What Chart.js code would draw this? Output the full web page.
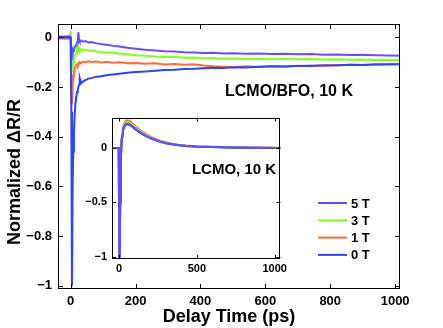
<!DOCTYPE html>
<html>
<head>
<meta charset="utf-8">
<script src="https://cdn.jsdelivr.net/npm/chart.js@4.4.1/dist/chart.umd.min.js"></script>
<style>
  body { margin: 0; background: #fff; }
  #wrap { position: relative; width: 443px; height: 328px; }
  #main { position: absolute; left: 0; top: 0; }
  #inset { position: absolute; left: 70px; top: 106px; }
</style>
</head>
<body>
<div id="wrap">
  <canvas id="main" width="443" height="328"></canvas>
  <canvas id="inset" width="220" height="176"></canvas>
</div>
<script>
// main panel (LCMO/BFO, 10 K) - delay in ps, normalized dR/R
const delay = [-39, -20, -5, 0, 2, 4, 6, 8, 10, 12, 14, 17, 20, 22, 24, 26, 28, 32, 38, 45, 55, 65, 80, 95, 110, 130, 150, 175, 200, 230, 260, 290, 320, 350, 380, 410, 440, 470, 500, 540, 580, 620, 660, 700, 740, 780, 820, 860, 900, 940, 980, 1015];
const bfo5T = [0.004, 0.003, 0.004, 0.002, -0.04, -0.09, -0.07, -0.055, -0.045, -0.04, -0.036, -0.032, -0.02, -0.01, 0.02, -0.01, -0.016, -0.012, -0.017, -0.015, -0.02, -0.019, -0.024, -0.027, -0.03, -0.034, -0.037, -0.042, -0.046, -0.05, -0.053, -0.056, -0.057, -0.06, -0.061, -0.063, -0.062, -0.065, -0.064, -0.066, -0.065, -0.067, -0.066, -0.068, -0.067, -0.07, -0.069, -0.071, -0.07, -0.072, -0.073, -0.074];
const bfo3T = [0.003, 0.004, 0.006, 0.018, -0.05, -0.14, -0.12, -0.1, -0.085, -0.075, -0.07, -0.065, -0.03, -0.008, -0.055, -0.05, -0.052, -0.047, -0.051, -0.049, -0.054, -0.052, -0.057, -0.059, -0.062, -0.061, -0.066, -0.068, -0.072, -0.074, -0.077, -0.079, -0.078, -0.082, -0.081, -0.084, -0.083, -0.086, -0.085, -0.087, -0.086, -0.088, -0.086, -0.088, -0.087, -0.089, -0.088, -0.09, -0.089, -0.091, -0.09, -0.092];
const bfo1T = [-0.004, -0.005, -0.004, -0.005, -0.15, -0.27, -0.2, -0.16, -0.14, -0.125, -0.118, -0.11, -0.108, -0.112, -0.104, -0.106, -0.1, -0.103, -0.097, -0.1, -0.096, -0.099, -0.097, -0.101, -0.098, -0.102, -0.1, -0.104, -0.103, -0.106, -0.104, -0.109, -0.107, -0.11, -0.108, -0.113, -0.116, -0.118, -0.12, -0.116, -0.119, -0.115, -0.117, -0.114, -0.116, -0.112, -0.113, -0.11, -0.111, -0.108, -0.109, -0.107];
const bfo0T = [0.0, 0.002, 0.0, -0.002, -0.3, -1.0, -0.6, -0.46, -0.38, -0.32, -0.28, -0.24, -0.22, -0.21, -0.2, -0.19, -0.165, -0.185, -0.178, -0.172, -0.166, -0.163, -0.158, -0.156, -0.152, -0.149, -0.146, -0.142, -0.139, -0.137, -0.134, -0.131, -0.13, -0.127, -0.126, -0.124, -0.122, -0.123, -0.12, -0.121, -0.118, -0.117, -0.117, -0.115, -0.114, -0.113, -0.112, -0.11, -0.111, -0.109, -0.108, -0.108];

// inset (LCMO, 10 K)
const insetDelay = [-45, -20, -2, 0, 2, 5, 8, 12, 16, 20, 25, 30, 40, 50, 60, 75, 90, 110, 130, 155, 180, 210, 240, 270, 300, 340, 380, 430, 500, 600, 700, 800, 900, 1000, 1037];
const lcmo5T = [0, 0, 0, -0.5, -1.02, -1.02, -0.5, -0.1, 0.052, 0.114, 0.163, 0.189, 0.216, 0.224, 0.224, 0.214, 0.195, 0.172, 0.151, 0.128, 0.108, 0.088, 0.072, 0.058, 0.047, 0.035, 0.027, 0.02, 0.014, 0.009, 0.006, 0.004, 0.002, 0.001, 0.001];
const lcmo3T = [0, 0, 0, -0.5, -1.02, -1.02, -0.5, -0.1, 0.055, 0.122, 0.174, 0.202, 0.23, 0.24, 0.239, 0.228, 0.209, 0.184, 0.162, 0.137, 0.116, 0.094, 0.077, 0.062, 0.05, 0.038, 0.029, 0.022, 0.015, 0.01, 0.007, 0.004, 0.003, 0.002, 0.001];
const lcmo1T = [0, 0, 0, -0.5, -1.02, -1.02, -0.5, -0.1, 0.06, 0.13, 0.185, 0.215, 0.245, 0.255, 0.254, 0.243, 0.222, 0.196, 0.172, 0.146, 0.123, 0.1, 0.082, 0.066, 0.053, 0.04, 0.031, 0.023, 0.016, 0.011, 0.007, 0.005, 0.003, 0.002, 0.002];
const lcmo0T = [0, 0, 0, -0.5, -1.02, -1.02, -0.5, -0.1, 0.05, 0.11, 0.157, 0.183, 0.208, 0.217, 0.216, 0.207, 0.189, 0.167, 0.146, 0.124, 0.105, 0.085, 0.07, 0.056, 0.045, 0.034, 0.026, 0.019, 0.013, 0.009, 0.006, 0.003, 0.002, 0.001, 0];

const fieldLabels = ['5 T', '3 T', '1 T', '0 T'];
const xTicks = [0, 200, 400, 600, 800, 1000];
const yTicks = [0, -0.2, -0.4, -0.6, -0.8, -1];
const insetXTicks = [0, 500, 1000];
const insetYTicks = [0, -0.5, -1];

const colors = { '5 T': '#6a4dff', '3 T': '#80ff20', '1 T': '#ff6a3a', '0 T': '#2a44ff' };
const FONT = '"Liberation Sans", Arial, Helvetica, sans-serif';

function pts(xs, ys) { return xs.map((x, i) => ({ x: x, y: ys[i] })); }
function fmt(v) { return v < 0 ? '\u2212' + Math.abs(v) : String(v); }
function ds(label, xs, ys) {
  return { label: label, data: pts(xs, ys), borderColor: colors[label], borderWidth: 2, pointRadius: 0, tension: 0, fill: false };
}

// box + inward tick marks, matlab style
const frame = {
  id: 'frame',
  beforeDatasetsDraw(chart, args, opts) {
    if (!opts.fill) return;
    const a = chart.chartArea;
    chart.ctx.save();
    chart.ctx.fillStyle = opts.fill;
    chart.ctx.fillRect(a.left, a.top, a.right - a.left, a.bottom - a.top);
    chart.ctx.restore();
  },
  afterDatasetsDraw(chart, args, opts) {
    const ctx = chart.ctx, a = chart.chartArea, x = chart.scales.x, y = chart.scales.y;
    const len = opts.tick || 5;
    ctx.save();
    ctx.strokeStyle = '#000';
    ctx.lineWidth = 1;
    ctx.strokeRect(Math.round(a.left) + 0.5, Math.round(a.top) + 0.5, Math.round(a.right - a.left) - 1, Math.round(a.bottom - a.top) - 1);
    ctx.beginPath();
    x.ticks.forEach(t => {
      const p = Math.round(x.getPixelForValue(t.value)) + 0.5;
      ctx.moveTo(p, a.bottom); ctx.lineTo(p, a.bottom - len);
      ctx.moveTo(p, a.top); ctx.lineTo(p, a.top + len);
    });
    y.ticks.forEach(t => {
      const p = Math.round(y.getPixelForValue(t.value)) + 0.5;
      ctx.moveTo(a.left, p); ctx.lineTo(a.left + len, p);
      ctx.moveTo(a.right, p); ctx.lineTo(a.right - len, p);
    });
    ctx.stroke();
    ctx.restore();
  }
};

// text labels: y title, annotation, legend
const labels = {
  id: 'labels',
  afterDraw(chart, args, opts) {
    const ctx = chart.ctx;
    ctx.save();
    ctx.fillStyle = '#000';
    ctx.textBaseline = 'middle';
    if (opts.yTitle) {
      ctx.save();
      ctx.translate(opts.yTitle.x, opts.yTitle.y);
      ctx.rotate(-Math.PI / 2);
      ctx.textAlign = 'center';
      ctx.font = 'bold 18px ' + FONT;
      ctx.fillText(opts.yTitle.text, 0, 0);
      ctx.restore();
    }
    if (opts.note) {
      ctx.textAlign = 'center';
      ctx.font = 'bold ' + opts.note.size + 'px ' + FONT;
      ctx.fillText(opts.note.text, opts.note.x, opts.note.y);
    }
    if (opts.legend) {
      const L = opts.legend;
      ctx.font = 'bold 13px ' + FONT;
      ctx.textAlign = 'left';
      fieldLabels.forEach((f, i) => {
        const yy = L.y + i * L.step;
        ctx.strokeStyle = colors[f];
        ctx.lineWidth = 2;
        ctx.beginPath();
        ctx.moveTo(L.x, yy); ctx.lineTo(L.x + L.len, yy);
        ctx.stroke();
        ctx.fillText(f, L.x + L.len + 4, yy + 1);
      });
    }
    ctx.restore();
  }
};

function axis(min, max, ticks, size, fontSize, pad, horiz) {
  return {
    type: 'linear', min: min, max: max,
    afterBuildTicks: s => { s.ticks = ticks.map(v => ({ value: v })); },
    afterFit: s => { if (horiz) s.height = size; else s.width = size; },
    grid: { display: false, drawTicks: false },
    border: { display: false },
    ticks: { color: '#000', padding: pad, maxRotation: 0, autoSkip: false, font: { family: FONT, size: fontSize, weight: 'bold' }, callback: fmt }
  };
}

const mainX = axis(-39, 1015, xTicks, 39, 13, 5, true);
mainX.title = { display: true, text: 'Delay Time (ps)', color: '#000', font: { family: FONT, size: 18, weight: 'bold' }, padding: { top: 0, bottom: 0 } };

new Chart(document.getElementById('main'), {
  type: 'line',
  data: {
    datasets: [ds('0 T', delay, bfo0T), ds('5 T', delay, bfo5T), ds('3 T', delay, bfo3T), ds('1 T', delay, bfo1T)]
  },
  options: {
    responsive: false,
    animation: false,
    layout: { padding: { left: 0, top: 24, right: 43, bottom: 0 } },
    plugins: {
      legend: { display: false },
      tooltip: { enabled: false },
      frame: { tick: 5 },
      labels: {
        yTitle: { text: 'Normalized \u0394R/R', x: 15, y: 172 },
        note: { text: 'LCMO/BFO, 10 K', x: 289, y: 92, size: 16 },
        legend: { x: 318, y: 203, step: 17.3, len: 29 }
      }
    },
    scales: {
      x: mainX,
      y: axis(-1.013, 0.054, yTicks, 58, 13, 6, false)
    }
  },
  plugins: [frame, labels]
});

new Chart(document.getElementById('inset'), {
  type: 'line',
  data: {
    datasets: [ds('5 T', insetDelay, lcmo5T), ds('0 T', insetDelay, lcmo0T), ds('3 T', insetDelay, lcmo3T), ds('1 T', insetDelay, lcmo1T)]
  },
  options: {
    responsive: false,
    animation: false,
    layout: { padding: { left: 0, top: 10, right: 3, bottom: 0 } },
    plugins: {
      legend: { display: false },
      tooltip: { enabled: false },
      frame: { tick: 4, fill: '#fff' },
      labels: { note: { text: 'LCMO, 10 K', x: 164, y: 64, size: 15 } }
    },
    scales: {
      x: axis(-45, 1037, insetXTicks, 23, 11, 3, true),
      y: axis(-1.02, 0.28, insetYTicks, 42, 11, 5, false)
    }
  },
  plugins: [frame, labels]
});
</script>
</body>
</html>
